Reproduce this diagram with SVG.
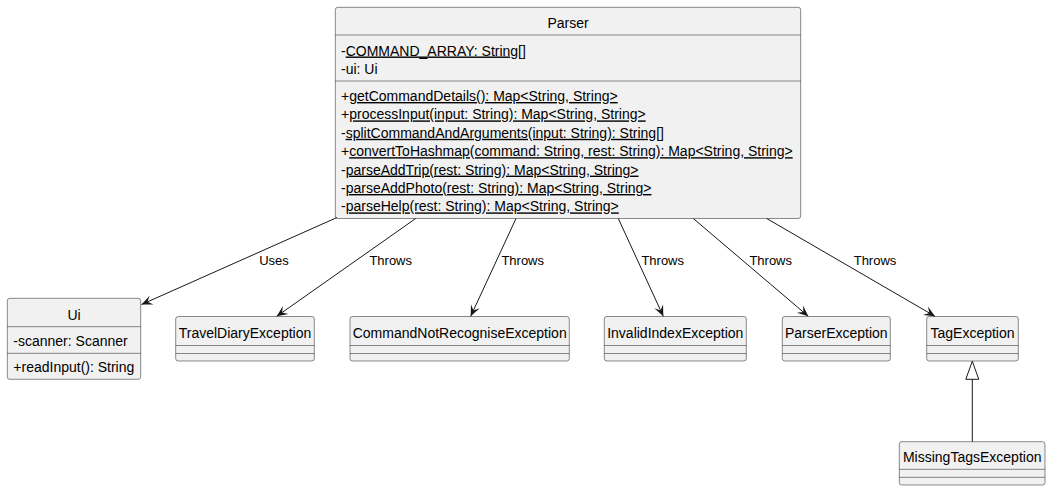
<svg xmlns="http://www.w3.org/2000/svg" width="1051" height="491" viewBox="0 0 1051 491">
<style>
  .box { fill: #F1F1F1; stroke: #181818; stroke-width: 0.5; }
  .div { stroke: #181818; stroke-width: 0.5; }
  .t { font-family: "Liberation Sans", Arial, sans-serif; font-size: 14px; fill: #000000; }
  .c { text-anchor: middle; }
  .lbl { font-family: "Liberation Sans", Arial, sans-serif; font-size: 13px; fill: #000000; text-anchor: middle; }
  .u { text-decoration: underline; text-decoration-skip-ink: none; }
  .edge { stroke: #181818; stroke-width: 1; fill: none; }
</style>
<defs>
  <marker id="arr" viewBox="-12 -6 13 12" refX="0" refY="0" markerWidth="13" markerHeight="12" markerUnits="userSpaceOnUse" orient="auto">
    <path d="M0,0 L-11,-4.8 L-6.5,0 L-11,4.8 Z" fill="#181818"/>
  </marker>
</defs>
<rect width="1051" height="491" fill="#FFFFFF"/>

<g id="Parser">
  <rect class="box" x="335.3" y="7.3" width="465.4" height="211.2" rx="2.5"/>
  <text class="t c" x="568" y="28">Parser</text>
  <line class="div" x1="335.3" y1="35" x2="800.7" y2="35"/>
  <text class="t" x="341" y="55.5">-<tspan class="u">COMMAND_ARRAY: String[]</tspan></text>
  <text class="t" x="341" y="74">-ui: Ui</text>
  <line class="div" x1="335.3" y1="81" x2="800.7" y2="81"/>
  <text class="t" x="341" y="101">+<tspan class="u">getCommandDetails(): Map&lt;String, String&gt;</tspan></text>
  <text class="t" x="341" y="119.4">+<tspan class="u">processInput(input: String): Map&lt;String, String&gt;</tspan></text>
  <text class="t" x="341" y="137.8">-<tspan class="u">splitCommandAndArguments(input: String): String[]</tspan></text>
  <text class="t" x="341" y="156.2">+<tspan class="u">convertToHashmap(command: String, rest: String): Map&lt;String, String&gt;</tspan></text>
  <text class="t" x="341" y="174.6">-<tspan class="u">parseAddTrip(rest: String): Map&lt;String, String&gt;</tspan></text>
  <text class="t" x="341" y="193">-<tspan class="u">parseAddPhoto(rest: String): Map&lt;String, String&gt;</tspan></text>
  <text class="t" x="341" y="211.4">-<tspan class="u">parseHelp(rest: String): Map&lt;String, String&gt;</tspan></text>
</g>

<g id="Ui">
  <rect class="box" x="7.3" y="298.3" width="133.4" height="81" rx="2.5"/>
  <text class="t c" x="74" y="319.5">Ui</text>
  <line class="div" x1="7.3" y1="326.7" x2="140.7" y2="326.7"/>
  <text class="t" x="13.3" y="346">-scanner: Scanner</text>
  <line class="div" x1="7.3" y1="353.3" x2="140.7" y2="353.3"/>
  <text class="t" x="13.3" y="372">+readInput(): String</text>
</g>

<g id="TravelDiaryException">
  <rect class="box" x="175.7" y="316.5" width="138.6" height="44.5" rx="2.5"/>
  <text class="t c" x="245" y="338">TravelDiaryException</text>
  <line class="div" x1="175.7" y1="345.5" x2="314.3" y2="345.5"/>
  <line class="div" x1="175.7" y1="353.5" x2="314.3" y2="353.5"/>
</g>

<g id="CommandNotRecogniseException">
  <rect class="box" x="350" y="316.5" width="219.3" height="44.5" rx="2.5"/>
  <text class="t c" x="459.7" y="338">CommandNotRecogniseException</text>
  <line class="div" x1="350" y1="345.5" x2="569.3" y2="345.5"/>
  <line class="div" x1="350" y1="353.5" x2="569.3" y2="353.5"/>
</g>

<g id="InvalidIndexException">
  <rect class="box" x="604.3" y="316.5" width="142" height="44.5" rx="2.5"/>
  <text class="t c" x="675.3" y="338">InvalidIndexException</text>
  <line class="div" x1="604.3" y1="345.5" x2="746.3" y2="345.5"/>
  <line class="div" x1="604.3" y1="353.5" x2="746.3" y2="353.5"/>
</g>

<g id="ParserException">
  <rect class="box" x="782.3" y="316.5" width="108" height="44.5" rx="2.5"/>
  <text class="t c" x="836.3" y="338">ParserException</text>
  <line class="div" x1="782.3" y1="345.5" x2="890.3" y2="345.5"/>
  <line class="div" x1="782.3" y1="353.5" x2="890.3" y2="353.5"/>
</g>

<g id="TagException">
  <rect class="box" x="926.7" y="316.5" width="91.6" height="44.5" rx="2.5"/>
  <text class="t c" x="972.5" y="338">TagException</text>
  <line class="div" x1="926.7" y1="345.5" x2="1018.3" y2="345.5"/>
  <line class="div" x1="926.7" y1="353.5" x2="1018.3" y2="353.5"/>
</g>

<g id="MissingTagsException">
  <rect class="box" x="899.3" y="441.7" width="145.7" height="43.3" rx="2.5"/>
  <text class="t c" x="972.2" y="462">MissingTagsException</text>
  <line class="div" x1="899.3" y1="469.3" x2="1045" y2="469.3"/>
  <line class="div" x1="899.3" y1="477.3" x2="1045" y2="477.3"/>
</g>

<g id="connectors">
  <line class="edge" x1="337" y1="217.5" x2="141.5" y2="304.5" marker-end="url(#arr)"/>
  <text class="lbl" x="274" y="264.5">Uses</text>
  <line class="edge" x1="415.7" y1="218.5" x2="276.7" y2="316.3" marker-end="url(#arr)"/>
  <text class="lbl" x="390.7" y="264.5">Throws</text>
  <line class="edge" x1="516" y1="218.5" x2="470.7" y2="316.3" marker-end="url(#arr)"/>
  <text class="lbl" x="522.7" y="264.5">Throws</text>
  <line class="edge" x1="618.3" y1="218.5" x2="663.3" y2="316.3" marker-end="url(#arr)"/>
  <text class="lbl" x="662.7" y="264.5">Throws</text>
  <line class="edge" x1="693.3" y1="218.5" x2="808.3" y2="316.3" marker-end="url(#arr)"/>
  <text class="lbl" x="770.7" y="264.5">Throws</text>
  <line class="edge" x1="766.7" y1="218.5" x2="935" y2="316.3" marker-end="url(#arr)"/>
  <text class="lbl" x="875" y="264.5">Throws</text>
  <line class="edge" x1="972.3" y1="441.7" x2="972.3" y2="379.3"/>
  <polygon points="972.3,361.2 965.8,379.3 978.8,379.3" fill="none" stroke="#181818" stroke-width="1"/>
</g>
</svg>
